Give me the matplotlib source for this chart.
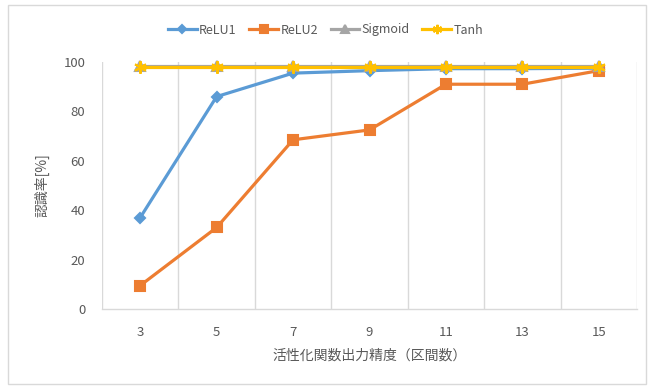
import matplotlib
matplotlib.use("Agg")
import matplotlib.pyplot as plt
from matplotlib.patches import Rectangle

plt.rcParams['font.family'] = ['Noto Sans CJK JP', 'DejaVu Sans']

# Output precision of the activation function (number of intervals)
intervals = [3, 5, 7, 9, 11, 13, 15]
relu1 = [37, 86, 95.5, 96.5, 97.3, 97.3, 97.5]
relu2 = [9.5, 33, 68.5, 72.5, 91, 91, 96.5]
sigmoid = [98.3, 98.3, 98.3, 98.3, 98.3, 98.3, 98.3]
tanh = [97.9, 97.9, 97.9, 97.9, 97.9, 97.9, 97.9]
series_names = ["ReLU1", "ReLU2", "Sigmoid", "Tanh"]
y_ticks = [0, 20, 40, 60, 80, 100]
x_label = "活性化関数出力精度（区間数）"
y_label = "認識率[%]"

W, H = 651, 387
fig = plt.figure(figsize=(W / 100, H / 100), dpi=100)
fig.patch.set_facecolor("white")

# light outer chart border
fig.add_artist(Rectangle((8 / W, 1 - 384 / H), 638 / W, 379 / H,
                         transform=fig.transFigure, fill=False,
                         edgecolor="#D9D9D9", linewidth=1.0))

ax = fig.add_axes([102 / W, 1 - 309 / H, 535 / W, 247 / H])
ax.set_xlim(2, 16)
ax.set_ylim(0, 100)

# category boundary gridlines
for xb in range(2, 17, 2):
    ax.axvline(xb, color="#D9D9D9", linewidth=1.0, zorder=0)

for s in ["top", "right", "left"]:
    ax.spines[s].set_visible(False)
ax.spines["bottom"].set_color("#D9D9D9")
ax.spines["bottom"].set_linewidth(1.0)

gray = "#595959"
ax.set_xticks(intervals)
ax.set_xticklabels([str(v) for v in intervals])
ax.set_yticks(y_ticks)
ax.tick_params(axis="both", length=0, colors=gray, labelsize=9.5)
ax.tick_params(axis="x", pad=12)
ax.tick_params(axis="y", pad=12)

lw = 2.3
styles = [
    (relu1, "#5B9BD5", "D", 5.5),
    (relu2, "#ED7D31", "s", 7.5),
    (sigmoid, "#A5A5A5", "^", 7),
    (tanh, "#FFC000", (6, 2, 0), 9),
]
for name, (vals, col, mk, ms) in zip(series_names, styles):
    ax.plot(intervals, vals, color=col, linewidth=lw, marker=mk, markersize=ms,
            markerfacecolor=col, markeredgecolor=col, markeredgewidth=1.5,
            label=name, clip_on=False)

ax.set_xlabel(x_label, color=gray, fontsize=10, labelpad=7)
ax.set_ylabel(y_label, color=gray, fontsize=10, labelpad=10)

leg = fig.legend(loc="center", bbox_to_anchor=(0.5, 1 - 30 / H), ncol=4,
                 frameon=False, fontsize=9, handlelength=2.3,
                 columnspacing=1.0, handletextpad=0.2, markerscale=0.75)
for t in leg.get_texts():
    t.set_color(gray)

fig.savefig("out.png", dpi=100, facecolor="white")
